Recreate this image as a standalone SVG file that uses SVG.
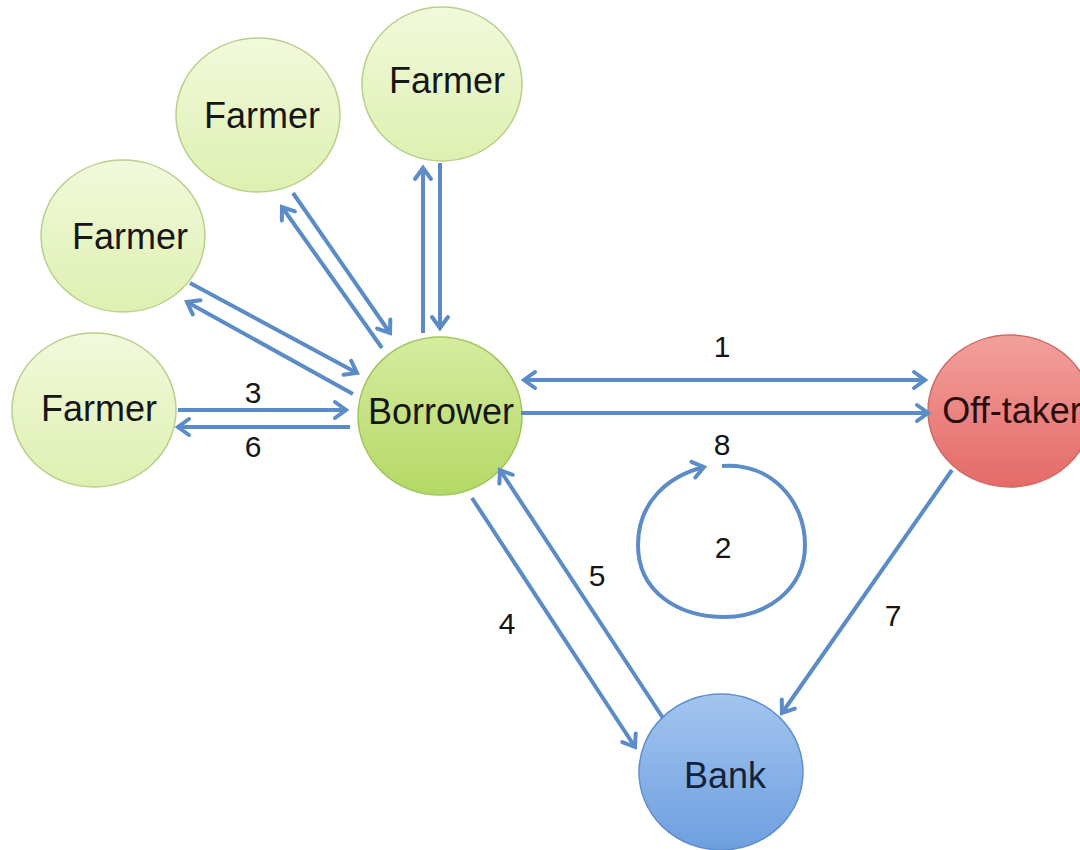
<svg xmlns="http://www.w3.org/2000/svg" width="1080" height="850" viewBox="0 0 1080 850">
  <style>
    .lbl { font-family: "Liberation Sans", Arial, sans-serif; font-size: 36px; fill: #161616; text-anchor: middle; }
    .num { font-family: "Liberation Sans", Arial, sans-serif; font-size: 30px; fill: #161616; text-anchor: middle; }
    .farmer { fill: url(#gFarmer); stroke: #b9cf8c; stroke-width: 1.5; }
    .conn { fill: none; stroke: #5b8cc8; stroke-width: 4; }
  </style>
  <defs>
    <linearGradient id="gFarmer" x1="0" y1="0" x2="0" y2="1">
      <stop offset="0" stop-color="#f2f9dc"/>
      <stop offset="1" stop-color="#def0b0"/>
    </linearGradient>
    <linearGradient id="gBorrower" x1="0" y1="0" x2="0" y2="1">
      <stop offset="0" stop-color="#d6eba0"/>
      <stop offset="1" stop-color="#b4d965"/>
    </linearGradient>
    <linearGradient id="gOff" x1="0" y1="0" x2="0" y2="1">
      <stop offset="0" stop-color="#f2a09d"/>
      <stop offset="1" stop-color="#e46a67"/>
    </linearGradient>
    <linearGradient id="gBank" x1="0" y1="0" x2="0" y2="1">
      <stop offset="0" stop-color="#a3c5ef"/>
      <stop offset="1" stop-color="#6d9fe0"/>
    </linearGradient>
    <marker id="arr" markerUnits="userSpaceOnUse" markerWidth="24" markerHeight="24" viewBox="-14 -12 18 24" refX="0" refY="0" orient="auto-start-reverse">
      <path d="M-11,-8 L0,0 L-11,8" fill="none" stroke="#5b8cc8" stroke-width="4" stroke-linecap="round"/>
    </marker>
  </defs>

  <rect width="1080" height="850" fill="#ffffff"/>

  <g id="farmer1">
    <ellipse class="farmer" cx="442" cy="84" rx="80" ry="77"/>
    <text class="lbl" x="447" y="93">Farmer</text>
  </g>
  <g id="farmer2">
    <ellipse class="farmer" cx="258" cy="115" rx="82" ry="77"/>
    <text class="lbl" x="262" y="128">Farmer</text>
  </g>
  <g id="farmer3">
    <ellipse class="farmer" cx="123" cy="236" rx="82" ry="76"/>
    <text class="lbl" x="130" y="249">Farmer</text>
  </g>
  <g id="farmer4">
    <ellipse class="farmer" cx="94" cy="410" rx="82" ry="77"/>
    <text class="lbl" x="99" y="421">Farmer</text>
  </g>
  <g id="borrower">
    <ellipse cx="440" cy="416" rx="82" ry="79" fill="url(#gBorrower)" stroke="#a2c65e" stroke-width="1.5"/>
    <text class="lbl" x="441" y="424">Borrower</text>
  </g>
  <g id="offtaker">
    <ellipse cx="1010" cy="411" rx="82" ry="76" fill="url(#gOff)" stroke="#d06a66" stroke-width="1.5"/>
    <text class="lbl" x="1012" y="423" style="fill:#2a0c0c">Off-taker</text>
  </g>
  <g id="bank">
    <ellipse cx="721" cy="772" rx="82" ry="78" fill="url(#gBank)" stroke="#5f8fcf" stroke-width="1.5"/>
    <text class="lbl" x="725" y="788" style="fill:#14233a">Bank</text>
  </g>

  <g id="connectors">
    <line class="conn" x1="423" y1="333" x2="423" y2="168" marker-end="url(#arr)"/>
    <line class="conn" x1="440" y1="163" x2="440" y2="328" marker-end="url(#arr)"/>
    <line class="conn" x1="293" y1="193" x2="390" y2="333" marker-end="url(#arr)"/>
    <line class="conn" x1="382" y1="348" x2="282" y2="207" marker-end="url(#arr)"/>
    <line class="conn" x1="190" y1="283" x2="357" y2="373" marker-end="url(#arr)"/>
    <line class="conn" x1="353" y1="394" x2="187" y2="302" marker-end="url(#arr)"/>
    <line class="conn" x1="178" y1="410" x2="346" y2="410" marker-end="url(#arr)"/>
    <line class="conn" x1="350" y1="427" x2="178" y2="427" marker-end="url(#arr)"/>
    <line class="conn" x1="524" y1="380" x2="925" y2="380" marker-start="url(#arr)" marker-end="url(#arr)"/>
    <line class="conn" x1="521" y1="413" x2="928" y2="413" marker-end="url(#arr)"/>
    <line class="conn" x1="472" y1="498" x2="635" y2="747" marker-end="url(#arr)"/>
    <line class="conn" x1="663" y1="718" x2="500" y2="470" marker-end="url(#arr)"/>
    <line class="conn" x1="952" y1="470" x2="782" y2="713" marker-end="url(#arr)"/>
    <path class="conn" d="M 722 466 C 770 462, 805 500, 805 545 C 805 590, 765 618, 722 617 C 678 616, 638 592, 638 545 C 638 502, 668 476, 704 467" marker-end="url(#arr)"/>

    <text class="num" x="722" y="357">1</text>
    <text class="num" x="722" y="455">8</text>
    <text class="num" x="723" y="558">2</text>
    <text class="num" x="253" y="403">3</text>
    <text class="num" x="253" y="457">6</text>
    <text class="num" x="597" y="586">5</text>
    <text class="num" x="507" y="634">4</text>
    <text class="num" x="893" y="626">7</text>
  </g>
</svg>
